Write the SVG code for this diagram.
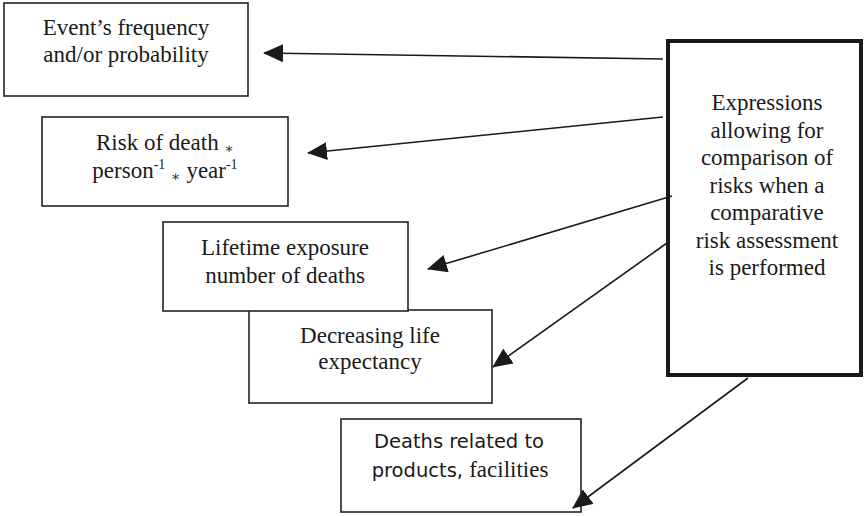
<svg xmlns="http://www.w3.org/2000/svg" width="865" height="516" viewBox="0 0 865 516">
  <style>
    .box { fill: #ffffff; stroke: #222222; stroke-width: 1.6; }
    .main { fill: #ffffff; stroke: #1a1a1a; stroke-width: 4; }
    .t { font-size: 23px; fill: #1a1a1a; text-anchor: middle; }
    .small { font-size: 14px; }
    .sans { font-family: "DejaVu Sans", Verdana, sans-serif; font-size: 19.5px; }
    .conn { stroke: #1a1a1a; stroke-width: 1.6; fill: none; marker-end: url(#arrow); }
  </style>
  <defs>
    <marker id="arrow" viewBox="0 0 20 18" markerWidth="20" markerHeight="18" refX="19" refY="9" orient="auto" markerUnits="userSpaceOnUse">
      <path d="M0,0 L20,9 L0,18 Z" fill="#1a1a1a"/>
    </marker>
  </defs>

  <rect width="865" height="516" fill="#ffffff"/>

  <g font-family="Liberation Serif, Times New Roman, DejaVu Serif, serif">
    <!-- outcome boxes -->
    <g id="node-frequency">
      <rect class="box" x="4" y="3" width="244" height="93"/>
      <text class="t" x="126" y="35">Event’s frequency</text>
      <text class="t" x="126" y="62">and/or probability</text>
    </g>

    <g id="node-risk-of-death">
      <rect class="box" x="42" y="117" width="246" height="89"/>
      <text class="t" x="165" y="150">Risk of death <tspan class="small" dy="3">∗</tspan></text>
      <text class="t" x="165" y="178">person<tspan class="small" dy="-9">-1</tspan><tspan dy="9"> </tspan><tspan class="small" dy="3">∗</tspan><tspan dy="-3"> year</tspan><tspan class="small" dy="-9">-1</tspan></text>
    </g>

    <g id="node-life-expectancy">
      <rect class="box" x="249" y="310" width="243" height="93"/>
      <text class="t" x="370" y="343">Decreasing life</text>
      <text class="t" x="370" y="369">expectancy</text>
    </g>

    <g id="node-lifetime-exposure">
      <rect class="box" x="163" y="222" width="245" height="89"/>
      <text class="t" x="285" y="255">Lifetime exposure</text>
      <text class="t" x="285" y="283">number of deaths</text>
    </g>

    <g id="node-products">
      <rect class="box" x="341" y="419" width="240" height="93"/>
      <text class="t sans" x="459" y="448">Deaths related to</text>
      <text class="t" x="460" y="477"><tspan class="sans">products, </tspan>facilities</text>
    </g>

    <!-- source box -->
    <g id="node-expressions">
      <rect class="main" x="668" y="41" width="193" height="334"/>
      <text class="t" x="767" y="110">Expressions</text>
      <text class="t" x="767" y="137.5">allowing for</text>
      <text class="t" x="767" y="165">comparison of</text>
      <text class="t" x="767" y="192.5">risks when a</text>
      <text class="t" x="767" y="220">comparative</text>
      <text class="t" x="767" y="247.5">risk assessment</text>
      <text class="t" x="767" y="275">is performed</text>
    </g>
  </g>

  <!-- connectors -->
  <g id="connectors">
    <line class="conn" x1="663" y1="59" x2="264" y2="53"/>
    <line class="conn" x1="663" y1="117" x2="308" y2="153"/>
    <line class="conn" x1="672" y1="196" x2="428" y2="269"/>
    <line class="conn" x1="667" y1="243" x2="493" y2="367"/>
    <line class="conn" x1="748" y1="378" x2="573" y2="508"/>
  </g>
</svg>
